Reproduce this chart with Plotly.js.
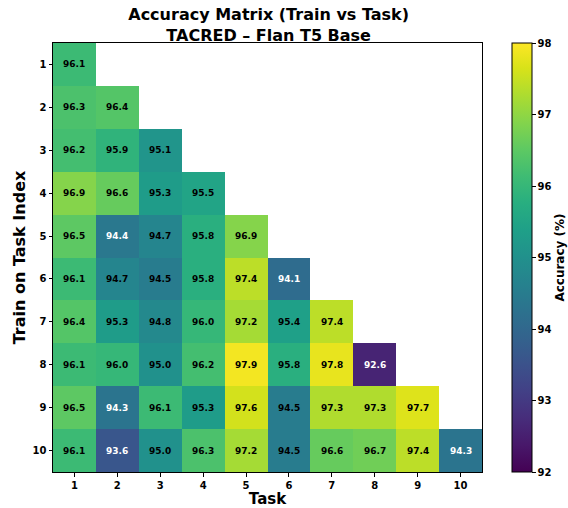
<!DOCTYPE html>
<html>
<head>
<meta charset="utf-8">
<script src="https://cdn.plot.ly/plotly-3.0.1.min.js"></script>
<style>html,body{margin:0;padding:0;background:#fff;}#chart{width:568px;height:508px;}</style>
</head>
<body>
<div id="chart"></div>
<script>
const tasks = [1,2,3,4,5,6,7,8,9,10];
const trainIdx = [1,2,3,4,5,6,7,8,9,10];
const row1  = [96.1];
const row2  = [96.3, 96.4];
const row3  = [96.2, 95.9, 95.1];
const row4  = [96.9, 96.6, 95.3, 95.5];
const row5  = [96.5, 94.4, 94.7, 95.8, 96.9];
const row6  = [96.1, 94.7, 94.5, 95.8, 97.4, 94.1];
const row7  = [96.4, 95.3, 94.8, 96.0, 97.2, 95.4, 97.4];
const row8  = [96.1, 96.0, 95.0, 96.2, 97.9, 95.8, 97.8, 92.6];
const row9  = [96.5, 94.3, 96.1, 95.3, 97.6, 94.5, 97.3, 97.3, 97.7];
const row10 = [96.1, 93.6, 95.0, 96.3, 97.2, 94.5, 96.6, 96.7, 97.4, 94.3];
const rows = [row1,row2,row3,row4,row5,row6,row7,row8,row9,row10];

const z = rows.map(r => tasks.map((t,i) => i < r.length ? r[i] : null));
const annotations = [];
rows.forEach((r, ri) => {
  r.forEach((v, ci) => {
    annotations.push({
      x: tasks[ci], y: trainIdx[ri], xref: 'x', yref: 'y',
      text: v.toFixed(1), showarrow: false,
      font: {family: 'DejaVu Sans', size: 9, weight: 'bold', color: v < 94.45 ? '#ffffff' : '#000000'}
    });
  });
});

const font = {family: 'DejaVu Sans', color: '#000'};
const data = [{
  type: 'heatmap', x: tasks, y: trainIdx, z: z,
  colorscale: 'Viridis', zmin: 92, zmax: 98, hoverongaps: false,
  xgap: 0, ygap: 0,
  colorbar: {
    x: 1.07, xanchor: 'left', xref: 'paper', xpad: 0, ypad: 0, thickness: 20, thicknessmode: 'pixels',
    len: 1, lenmode: 'fraction', y: 0.5, yanchor: 'middle',
    outlinewidth: 1, outlinecolor: '#000',
    tickvals: [92,93,94,95,96,97,98], ticks: 'outside', ticklen: 3.5, tickwidth: 1, tickcolor: '#000',
    tickfont: {family: 'DejaVu Sans', size: 10, weight: 'bold', color: '#000'},
    title: {text: 'Accuracy (%)', side: 'right', font: {family: 'DejaVu Sans', size: 12, weight: 'bold', color: '#000'}}
  }
}];

const layout = {
  width: 568, height: 508,
  margin: {l: 53, r: 86, t: 43, b: 36, autoexpand: false},
  paper_bgcolor: '#fff', plot_bgcolor: '#fff',
  font: font,
  title: {text: 'Accuracy Matrix (Train vs Task)<br>TACRED – Flan T5 Base', x: 0.473, xanchor: 'center', y: 0.961, yanchor: 'middle',
          font: {family: 'DejaVu Sans', size: 16, weight: 'bold', color: '#000'}},
  xaxis: {
    tickvals: tasks, ticktext: tasks.map(String), range: [0.5, 10.5],
    showgrid: false, zeroline: false, ticks: 'outside', ticklen: 3.5, tickcolor: '#000',
    showline: true, linecolor: '#000', linewidth: 1, mirror: true,
    tickfont: {family: 'DejaVu Sans', size: 10, weight: 'bold', color: '#000'},
    title: {text: 'Task', standoff: 6, font: {family: 'DejaVu Sans', size: 15, weight: 'bold', color: '#000'}}
  },
  yaxis: {
    tickvals: trainIdx, ticktext: trainIdx.map(String), range: [10.5, 0.5],
    showgrid: false, zeroline: false, ticks: 'outside', ticklen: 3.5, tickcolor: '#000',
    showline: true, linecolor: '#000', linewidth: 1, mirror: true,
    tickfont: {family: 'DejaVu Sans', size: 10, weight: 'bold', color: '#000'},
    title: {text: 'Train on Task Index', standoff: 2, font: {family: 'DejaVu Sans', size: 16, weight: 'bold', color: '#000'}}
  },
  annotations: annotations
};

Plotly.newPlot('chart', data, layout, {displayModeBar: false, staticPlot: true});
</script>
</body>
</html>
